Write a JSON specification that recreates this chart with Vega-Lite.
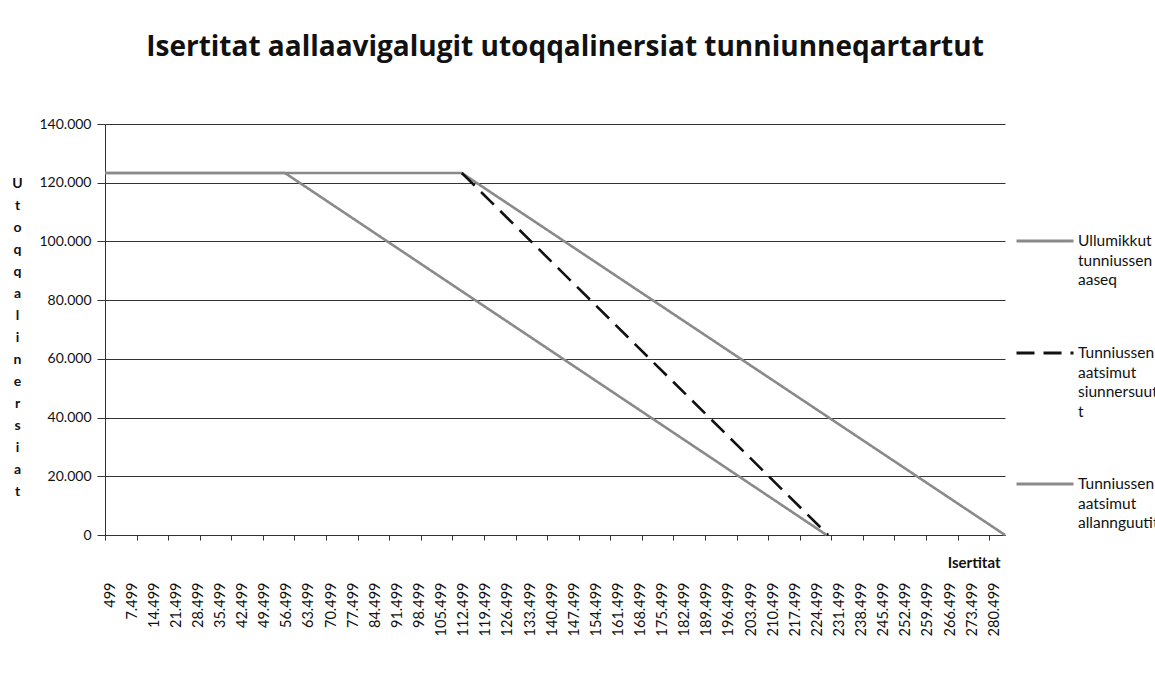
{
  "$schema": "https://vega.github.io/schema/vega-lite/v6.json",
  "autosize": {"type": "none"},
  "padding": {"left": 105, "top": 124, "right": 150, "bottom": 147},
  "width": 900,
  "height": 411,
  "background": "white",
  "title": {
    "text": "Isertitat aallaavigalugit utoqqalinersiat tunniunneqartartut",
    "font": "Open Sans",
    "fontSize": 28,
    "fontWeight": "bold",
    "color": "#111111",
    "anchor": "middle",
    "dx": 10,
    "offset": 55
  },
  "config": {
    "locale": {"number": {"decimal": ",", "thousands": ".", "grouping": [3], "currency": ["", " kr."]}},
    "view": {"stroke": null},
    "font": "Lato",
    "style": {"guide-label": {"lineHeight": 19.5}}
  },
  "data": {
    "values": [
      {"series": "Ullumikkut|tunniussen|aaseq", "x": 499, "y": 123300},
      {"series": "Ullumikkut|tunniussen|aaseq", "x": 113499, "y": 123300},
      {"series": "Ullumikkut|tunniussen|aaseq", "x": 285499, "y": 0},
      {"series": "Tunniussen|aatsimut|siunnersuuti|t", "x": 113499, "y": 123300},
      {"series": "Tunniussen|aatsimut|siunnersuuti|t", "x": 229499, "y": 0},
      {"series": "Tunniussen|aatsimut|allannguutit", "x": 499, "y": 123300},
      {"series": "Tunniussen|aatsimut|allannguutit", "x": 57499, "y": 123300},
      {"series": "Tunniussen|aatsimut|allannguutit", "x": 228999, "y": 0}
    ]
  },
  "mark": {"type": "line", "strokeWidth": 2.6},
  "encoding": {
    "x": {
      "field": "x",
      "type": "quantitative",
      "scale": {"domain": [499, 285499], "nice": false, "zero": false},
      "axis": {
        "values": [499, 7499, 10499, 14499, 20499, 21499, 28499, 30499, 35499, 40499, 42499, 49499, 50499, 56499, 60499, 63499, 70499, 77499, 80499, 84499, 90499, 91499, 98499, 100499, 105499, 110499, 112499, 119499, 120499, 126499, 130499, 133499, 140499, 147499, 150499, 154499, 160499, 161499, 168499, 170499, 175499, 180499, 182499, 189499, 190499, 196499, 200499, 203499, 210499, 217499, 220499, 224499, 230499, 231499, 238499, 240499, 245499, 250499, 252499, 259499, 260499, 266499, 270499, 273499, 280499],
        "format": ",d",
        "labelExpr": "(datum.value - 499) % 7000 === 0 ? datum.label : ''",
        "labelAngle": 270,
        "labelOverlap": false,
        "labelBound": false,
        "labelFlush": false,
        "labelFont": "Lato",
        "labelFontSize": 14.5,
        "labelColor": "#111111",
        "labelPadding": 42,
        "labelOffset": 5,
        "tickSize": 5,
        "tickColor": "#333333",
        "tickOpacity": {"condition": {"test": "(datum.value - 499) % 10000 === 0", "value": 1}, "value": 0},
        "domainColor": "#333333",
        "grid": false,
        "title": "Isertitat",
        "titleFont": "Lato",
        "titleFontSize": 15,
        "titleFontWeight": "bold",
        "titleColor": "#111111",
        "titleAlign": "right",
        "titleAnchor": null,
        "titleX": 895,
        "titleY": 32,
        "titleBaseline": "alphabetic"
      }
    },
    "y": {
      "field": "y",
      "type": "quantitative",
      "scale": {"domain": [0, 140000], "nice": false},
      "axis": {
        "values": [0, 20000, 40000, 60000, 80000, 100000, 120000, 140000],
        "format": ",d",
        "labelFont": "Lato",
        "labelFontSize": 14,
        "labelColor": "#111111",
        "labelPadding": 6,
        "tickSize": 8,
        "tickColor": "#333333",
        "domainColor": "#333333",
        "grid": true,
        "gridColor": "#333333",
        "gridWidth": 1,
        "title": ["U", "t", "o", "q", "q", "a", "l", "i", "n", "e", "r", "s", "i", "a", "t"],
        "titleFont": "Lato",
        "titleFontSize": 14,
        "titleFontWeight": "bold",
        "titleColor": "#111111",
        "titleAngle": 0,
        "titleLineHeight": 22,
        "titleAlign": "center",
        "titleBaseline": "middle",
        "titleAnchor": null,
        "titleX": -88,
        "titleY": 59
      }
    },
    "color": {
      "field": "series",
      "type": "nominal",
      "scale": {
        "domain": ["Ullumikkut|tunniussen|aaseq", "Tunniussen|aatsimut|siunnersuuti|t", "Tunniussen|aatsimut|allannguutit"],
        "range": ["#8a8a8a", "#111111", "#8a8a8a"]
      },
      "legend": {
        "title": null,
        "orient": "none",
        "legendX": 910,
        "legendY": 87,
        "symbolType": "stroke",
        "symbolSize": 3249,
        "symbolStrokeWidth": 3,
        "labelExpr": "split(datum.label, '|')",
        "labelFont": "Lato",
        "labelFontSize": 15.5,
        "labelColor": "#111111",
        "labelLimit": 0,
        "labelBaseline": "middle",
        "labelOffset": 3,
        "rowPadding": 34
      }
    },
    "strokeDash": {
      "field": "series",
      "type": "nominal",
      "scale": {
        "domain": ["Ullumikkut|tunniussen|aaseq", "Tunniussen|aatsimut|siunnersuuti|t", "Tunniussen|aatsimut|allannguutit"],
        "range": [[1, 0], [18, 9], [1, 0]]
      },
      "legend": {
        "title": null,
        "orient": "none",
        "legendX": 910,
        "legendY": 87,
        "symbolType": "stroke",
        "symbolSize": 3249,
        "symbolStrokeWidth": 3,
        "labelExpr": "split(datum.label, '|')",
        "labelFont": "Lato",
        "labelFontSize": 15.5,
        "labelColor": "#111111",
        "labelLimit": 0,
        "labelBaseline": "middle",
        "labelOffset": 3,
        "rowPadding": 34
      }
    }
  }
}
